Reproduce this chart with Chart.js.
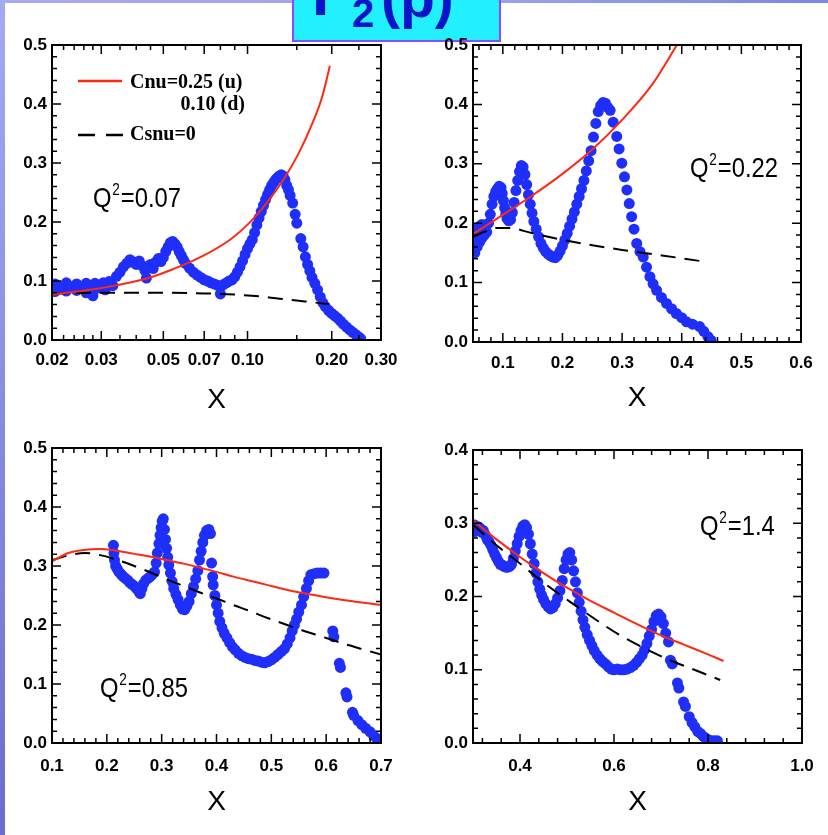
<!DOCTYPE html>
<html>
<head>
<meta charset="utf-8">
<script src="https://cdn.jsdelivr.net/npm/chart.js@4.4.1/dist/chart.umd.min.js"></script>
<style>
html, body { margin: 0; padding: 0; background: #fff; }
body { width: 828px; height: 835px; position: relative; overflow: hidden; }
#edgeTop { position: absolute; left: 0; top: 0; width: 828px; height: 3px; background: linear-gradient(90deg, #a6aaf2, #9aa2ee 60%, #7d86e0); }
#edgeLeft { position: absolute; left: 0; top: 0; width: 5px; height: 835px; background: linear-gradient(180deg, #a6aaf2, #6a6ecb); }
#titleBox { position: absolute; left: 292px; top: -4px; width: 205px; height: 42px; background: #22f0ff; border: 2px solid #8a4cff; overflow: hidden; }
canvas { position: absolute; }
</style>
</head>
<body>
<div id="edgeTop"></div>
<div id="edgeLeft"></div>
<div id="titleBox">
  <svg width="205" height="42">
    <text x="18" y="17" fill="#0a14c8" font-family="Liberation Sans, Arial, sans-serif" font-weight="bold" font-size="62">F</text>
    <text x="58" y="29" fill="#0a14c8" font-family="Liberation Sans, Arial, sans-serif" font-weight="bold" font-size="40">2</text>
    <text x="87" y="19" fill="#0a14c8" font-family="Liberation Sans, Arial, sans-serif" font-weight="bold" font-size="57">(p)</text>
  </svg>
</div>
<canvas id="c1" width="395" height="390" style="left:6px;top:30px"></canvas>
<canvas id="c2" width="394" height="392" style="left:427px;top:30px"></canvas>
<canvas id="c3" width="395" height="390" style="left:6px;top:433px"></canvas>
<canvas id="c4" width="395" height="388" style="left:427px;top:435px"></canvas>
<script>
const SANS = "'Liberation Sans', Arial, sans-serif";
const SERIF = "'Liberation Serif', 'Times New Roman', serif";

// ---- Q2 = 0.07 (log x) ----
const q007Points = [
  [0.0205,0.095],[0.0205,0.082],[0.0215,0.090],[0.0225,0.097],[0.0225,0.083],[0.0235,0.090],
  [0.0245,0.095],[0.0245,0.084],[0.0255,0.089],[0.0265,0.096],[0.0265,0.080],[0.0275,0.088],
  [0.0280,0.075],[0.0285,0.096],[0.0295,0.088],[0.0305,0.097],[0.0310,0.085],[0.0320,0.099],
  [0.0330,0.092],[0.0340,0.108],[0.0350,0.115],[0.0360,0.124],[0.0370,0.130],[0.0380,0.136],
  [0.0390,0.132],[0.0400,0.128],[0.0410,0.134],[0.0420,0.126],[0.0430,0.118],[0.0435,0.105],
  [0.0440,0.124],[0.0450,0.128],[0.0460,0.121],[0.0470,0.132],[0.0480,0.138],[0.0490,0.133],
  [0.0500,0.140],[0.0510,0.150],[0.0520,0.158],[0.0530,0.165],[0.0540,0.167],[0.0550,0.163],
  [0.0560,0.158],[0.0570,0.150],[0.0580,0.143],[0.0590,0.136],[0.0600,0.130],[0.0620,0.122],
  [0.0640,0.115],[0.0660,0.110],[0.0680,0.106],[0.0700,0.102],[0.0720,0.100],[0.0740,0.097],
  [0.0760,0.095],[0.0780,0.093],[0.0800,0.090],[0.0800,0.078],[0.0820,0.094],[0.0840,0.097],
  [0.0860,0.100],[0.0880,0.102],[0.0900,0.107],[0.0920,0.115],[0.0940,0.124],[0.0960,0.134],
  [0.0980,0.145],[0.1000,0.155],[0.1020,0.163],[0.1040,0.170],[0.1060,0.182],[0.1080,0.195],
  [0.1100,0.207],[0.1120,0.218],[0.1140,0.228],[0.1160,0.238],[0.1180,0.247],[0.1200,0.255],
  [0.1220,0.262],[0.1240,0.267],[0.1260,0.272],[0.1280,0.275],[0.1300,0.278],[0.1320,0.280],
  [0.1340,0.278],[0.1360,0.272],[0.1380,0.262],[0.1400,0.255],[0.1420,0.245],[0.1450,0.232],
  [0.1480,0.213],[0.1500,0.198],[0.1550,0.172],[0.1580,0.158],[0.1610,0.141],[0.1640,0.128],
  [0.1670,0.117],[0.1700,0.106],[0.1740,0.096],[0.1780,0.085],[0.1820,0.073],[0.1860,0.063],
  [0.1900,0.056],[0.1950,0.050],[0.2000,0.045],[0.2050,0.041],[0.2100,0.037],[0.2150,0.032],
  [0.2200,0.027],[0.2260,0.022],[0.2320,0.017],[0.2380,0.013],[0.2440,0.009],[0.2500,0.005],
  [0.2540,0.002]
];
const q007Cnu = [[0.020,0.077],[0.0273,0.085],[0.0342,0.093],[0.0448,0.106],[0.0541,0.120],[0.0676,0.140],
  [0.0866,0.170],[0.1017,0.199],[0.1174,0.233],[0.1345,0.272],[0.1518,0.315],[0.1715,0.370],[0.1848,0.412],[0.197,0.465]];
const q007Csnu = [[0.020,0.079],[0.03,0.080],[0.05,0.080],[0.07,0.079],[0.09,0.077],[0.11,0.074],
  [0.13,0.070],[0.15,0.067],[0.17,0.064],[0.195,0.061]];
const q007XTicks = [0.02, 0.03, 0.05, 0.07, 0.10, 0.20, 0.30];
const q007XLabels = ['0.02', '0.03', '0.05', '0.07', '0.10', '0.20', '0.30'];
const q007XMinor = [0.022, 0.024, 0.026, 0.028, 0.035, 0.04, 0.045, 0.06, 0.08, 0.09, 0.15, 0.25];

// ---- Q2 = 0.22 ----
const q022Points = [
  [0.053,0.150],[0.053,0.172],[0.053,0.190],[0.057,0.160],[0.057,0.185],[0.061,0.168],[0.061,0.195],
  [0.065,0.175],[0.065,0.198],[0.069,0.180],[0.069,0.196],[0.073,0.185],[0.076,0.200],[0.079,0.215],
  [0.082,0.232],[0.085,0.245],[0.088,0.253],[0.091,0.258],[0.094,0.262],[0.097,0.260],[0.099,0.250],
  [0.101,0.238],[0.103,0.226],[0.105,0.216],[0.107,0.208],[0.110,0.204],[0.113,0.206],[0.116,0.218],
  [0.119,0.235],[0.122,0.255],[0.125,0.272],[0.128,0.287],[0.131,0.297],[0.134,0.295],[0.137,0.282],
  [0.140,0.265],[0.143,0.248],[0.146,0.232],[0.149,0.217],[0.152,0.203],[0.156,0.190],[0.160,0.177],
  [0.164,0.166],[0.168,0.158],[0.172,0.152],[0.176,0.148],[0.180,0.145],[0.184,0.143],[0.188,0.142],
  [0.192,0.146],[0.196,0.153],[0.200,0.162],[0.204,0.172],[0.208,0.183],[0.212,0.195],[0.216,0.207],
  [0.220,0.219],[0.224,0.232],[0.228,0.245],[0.232,0.258],[0.236,0.272],[0.240,0.288],[0.244,0.305],
  [0.248,0.322],[0.252,0.345],[0.256,0.368],[0.260,0.388],[0.264,0.398],[0.268,0.403],[0.272,0.402],
  [0.276,0.395],[0.280,0.390],[0.285,0.370],[0.291,0.346],[0.295,0.325],[0.2995,0.301],[0.304,0.278],
  [0.308,0.256],[0.312,0.233],[0.316,0.211],[0.320,0.190],[0.3245,0.166],[0.330,0.152],[0.3355,0.143],
  [0.341,0.126],[0.3467,0.110],[0.352,0.098],[0.3578,0.087],[0.366,0.075],[0.3745,0.065],[0.383,0.056],
  [0.391,0.048],[0.400,0.041],[0.408,0.034],[0.418,0.030],[0.430,0.026],[0.437,0.018],[0.444,0.009],
  [0.449,0.003]
];
const q022Cnu = [[0.05,0.182],[0.1,0.214],[0.15,0.247],[0.2,0.283],[0.25,0.324],[0.3,0.374],
  [0.35,0.433],[0.392,0.5]];
const q022Csnu = [[0.05,0.177],[0.07,0.186],[0.09,0.192],[0.11,0.192],[0.15,0.183],[0.2,0.172],
  [0.25,0.163],[0.3,0.155],[0.35,0.148],[0.4,0.141],[0.44,0.135]];
const q022XTicks = [0.1, 0.2, 0.3, 0.4, 0.5, 0.6];
const q022XLabels = ['0.1', '0.2', '0.3', '0.4', '0.5', '0.6'];

// ---- Q2 = 0.85 ----
const q085Points = [
  [0.212,0.335],[0.213,0.322],[0.214,0.310],[0.216,0.300],[0.219,0.295],[0.222,0.290],[0.226,0.286],
  [0.230,0.282],[0.234,0.279],[0.238,0.276],[0.242,0.272],[0.246,0.269],[0.250,0.266],[0.254,0.262],
  [0.258,0.257],[0.261,0.253],[0.264,0.262],[0.267,0.270],[0.271,0.276],[0.275,0.279],[0.279,0.282],
  [0.283,0.286],[0.287,0.290],[0.290,0.305],[0.292,0.322],[0.295,0.338],[0.297,0.352],[0.299,0.365],
  [0.301,0.376],[0.303,0.380],[0.305,0.362],[0.307,0.345],[0.309,0.330],[0.311,0.315],[0.313,0.302],
  [0.316,0.288],[0.319,0.274],[0.322,0.262],[0.326,0.252],[0.330,0.243],[0.334,0.234],[0.338,0.227],
  [0.342,0.226],[0.346,0.232],[0.350,0.240],[0.354,0.253],[0.358,0.265],[0.362,0.278],[0.366,0.292],
  [0.369,0.310],[0.372,0.325],[0.375,0.340],[0.378,0.352],[0.382,0.360],[0.386,0.362],[0.389,0.355],
  [0.391,0.305],[0.393,0.282],[0.394,0.268],[0.397,0.250],[0.400,0.234],[0.403,0.220],[0.406,0.206],
  [0.410,0.195],[0.414,0.186],[0.419,0.178],[0.424,0.170],[0.429,0.163],[0.434,0.158],[0.440,0.152],
  [0.446,0.148],[0.452,0.145],[0.458,0.143],[0.464,0.142],[0.470,0.140],[0.476,0.139],[0.482,0.137],
  [0.488,0.136],[0.494,0.138],[0.500,0.141],[0.506,0.145],[0.512,0.150],[0.518,0.155],[0.524,0.160],
  [0.529,0.168],[0.534,0.178],[0.538,0.190],[0.542,0.200],[0.546,0.210],[0.550,0.222],[0.555,0.234],
  [0.559,0.248],[0.564,0.262],[0.568,0.275],[0.572,0.285],[0.578,0.287],[0.584,0.288],[0.590,0.288],
  [0.596,0.288],[0.612,0.190],[0.614,0.180],[0.624,0.135],[0.626,0.128],[0.636,0.085],[0.638,0.078],
  [0.648,0.052],[0.650,0.047],[0.658,0.038],[0.665,0.031],[0.672,0.025],[0.680,0.019],[0.686,0.013],
  [0.692,0.008],[0.697,0.003]
];
const q085Cnu = [[0.1,0.308],[0.13,0.322],[0.157,0.327],[0.187,0.329],[0.218,0.326],[0.248,0.321],
  [0.279,0.316],[0.309,0.31],[0.34,0.304],[0.37,0.297],[0.4,0.29],[0.431,0.282],[0.461,0.275],
  [0.492,0.268],[0.522,0.261],[0.552,0.255],[0.583,0.25],[0.613,0.245],[0.65,0.24],[0.7,0.234]];
const q085Csnu = [[0.1,0.31],[0.13,0.318],[0.16,0.322],[0.19,0.318],[0.22,0.31],[0.25,0.300],
  [0.28,0.289],[0.31,0.277],[0.34,0.266],[0.37,0.255],[0.4,0.245],[0.43,0.234],[0.46,0.224],
  [0.49,0.213],[0.52,0.203],[0.55,0.193],[0.58,0.184],[0.61,0.175],[0.64,0.166],[0.67,0.158],[0.7,0.15]];
const q085XTicks = [0.1, 0.2, 0.3, 0.4, 0.5, 0.6, 0.7];
const q085XLabels = ['0.1', '0.2', '0.3', '0.4', '0.5', '0.6', '0.7'];

// ---- Q2 = 1.4 ----
const q14Points = [
  [0.302,0.298],[0.302,0.288],[0.308,0.296],[0.314,0.294],[0.318,0.288],[0.322,0.290],[0.326,0.284],
  [0.330,0.278],[0.334,0.275],[0.338,0.270],[0.342,0.264],[0.346,0.258],[0.350,0.253],[0.354,0.248],
  [0.358,0.244],[0.362,0.243],[0.366,0.241],[0.370,0.240],[0.374,0.240],[0.378,0.241],[0.382,0.244],
  [0.386,0.252],[0.390,0.262],[0.394,0.272],[0.398,0.282],[0.402,0.290],[0.406,0.296],[0.410,0.298],
  [0.414,0.294],[0.418,0.285],[0.422,0.272],[0.426,0.258],[0.430,0.245],[0.434,0.232],[0.438,0.220],
  [0.442,0.210],[0.446,0.202],[0.450,0.196],[0.455,0.190],[0.460,0.186],[0.465,0.183],[0.470,0.185],
  [0.475,0.190],[0.480,0.198],[0.485,0.208],[0.490,0.222],[0.494,0.238],[0.498,0.250],[0.502,0.258],
  [0.506,0.260],[0.510,0.250],[0.514,0.235],[0.518,0.220],[0.522,0.205],[0.526,0.192],[0.530,0.180],
  [0.534,0.168],[0.538,0.158],[0.543,0.148],[0.548,0.140],[0.553,0.133],[0.558,0.126],[0.564,0.120],
  [0.570,0.115],[0.576,0.111],[0.582,0.108],[0.588,0.104],[0.594,0.101],[0.600,0.100],[0.607,0.101],
  [0.614,0.100],[0.621,0.100],[0.628,0.101],[0.635,0.103],[0.642,0.106],[0.648,0.110],[0.654,0.115],
  [0.660,0.120],[0.665,0.127],[0.670,0.136],[0.675,0.146],[0.680,0.155],[0.685,0.166],[0.690,0.174],
  [0.695,0.176],[0.700,0.172],[0.705,0.163],[0.710,0.150],[0.716,0.138],[0.720,0.113],[0.724,0.108],
  [0.735,0.082],[0.738,0.075],[0.748,0.056],[0.752,0.050],[0.760,0.036],[0.766,0.028],[0.772,0.022],
  [0.778,0.016],[0.784,0.013],[0.790,0.009],[0.796,0.006],[0.802,0.004],[0.808,0.003],[0.814,0.003],
  [0.820,0.003]
];
const q14Cnu = [[0.3,0.304],[0.35,0.278],[0.4,0.254],[0.45,0.232],[0.5,0.212],[0.55,0.194],
  [0.6,0.178],[0.65,0.162],[0.7,0.147],[0.75,0.134],[0.8,0.121],[0.833,0.112]];
const q14Csnu = [[0.3,0.298],[0.35,0.27],[0.4,0.245],[0.45,0.219],[0.506,0.193],[0.56,0.169],
  [0.613,0.147],[0.666,0.129],[0.719,0.113],[0.775,0.099],[0.826,0.086]];
const q14XTicks = [0.4, 0.6, 0.8, 1.0];
const q14XLabels = ['0.4', '0.6', '0.8', '1.0'];

const yTicks05 = [0, 0.1, 0.2, 0.3, 0.4, 0.5];
const yTicks04 = [0, 0.1, 0.2, 0.3, 0.4];

const BLUE = '#1f2ff9';
const RED = '#ff2814';

function steps(min, max, step, anchor) {
  const out = [];
  for (let k = -200; k <= 200; k++) {
    const v = +(anchor + k * step).toFixed(6);
    if (v > min + 1e-9 && v < max - 1e-9) out.push(v);
  }
  return out;
}

// "Q^2=val" label, squeezed horizontally like the original narrow face
function drawQ(ctx, x, y, val) {
  ctx.save();
  ctx.translate(x, y);
  ctx.scale(0.85, 1);
  ctx.fillStyle = '#000';
  ctx.textBaseline = 'alphabetic';
  ctx.textAlign = 'left';
  ctx.font = '28px ' + SANS;
  ctx.fillText('Q', 0, 0);
  const w = ctx.measureText('Q').width;
  ctx.font = '16px ' + SANS;
  ctx.fillText('2', w + 1, -12);
  const w2 = ctx.measureText('2').width;
  ctx.font = '28px ' + SANS;
  ctx.fillText('=' + val, w + w2 + 2, 0);
  ctx.restore();
}

// frame with inward ticks on all four sides, plus panel annotations
const framePlugin = {
  id: 'frame',
  afterDatasetsDraw(chart, args, opts) {
    const { ctx, chartArea: a, scales: { x, y } } = chart;
    ctx.save();
    ctx.strokeStyle = '#000';
    ctx.lineWidth = 1.5;
    ctx.beginPath();
    const xt = (vals, len) => vals.forEach(v => {
      const px = x.getPixelForValue(v);
      if (px < a.left + 1 || px > a.right - 1) return;
      ctx.moveTo(px, a.bottom); ctx.lineTo(px, a.bottom - len);
      ctx.moveTo(px, a.top); ctx.lineTo(px, a.top + len);
    });
    const yt = (vals, len) => vals.forEach(v => {
      const py = y.getPixelForValue(v);
      if (py < a.top + 1 || py > a.bottom - 1) return;
      ctx.moveTo(a.left, py); ctx.lineTo(a.left + len, py);
      ctx.moveTo(a.right, py); ctx.lineTo(a.right - len, py);
    });
    xt(x.ticks.map(t => t.value), 9);
    xt(opts.xMinor, 5);
    yt(y.ticks.map(t => t.value), 9);
    yt(opts.yMinor, 5);
    ctx.stroke();
    ctx.lineWidth = 2;
    ctx.strokeRect(a.left, a.top, a.width, a.height);

    drawQ(ctx, a.left + opts.qPos[0], a.top + opts.qPos[1], opts.q);

    if (opts.legend) {
      ctx.lineWidth = 2.5;
      ctx.strokeStyle = RED;
      ctx.beginPath();
      ctx.moveTo(a.left + 26, a.top + 36); ctx.lineTo(a.left + 70, a.top + 36);
      ctx.stroke();
      ctx.strokeStyle = '#000';
      ctx.setLineDash([17, 11]);
      ctx.beginPath();
      ctx.moveTo(a.left + 26, a.top + 90); ctx.lineTo(a.left + 71, a.top + 90);
      ctx.stroke();
      ctx.setLineDash([]);
      ctx.fillStyle = '#000';
      ctx.font = 'bold 20px ' + SERIF;
      ctx.textBaseline = 'middle';
      ctx.textAlign = 'left';
      ctx.fillText('Cnu=0.25 (u)', a.left + 78, a.top + 38);
      ctx.fillText('Csnu=0', a.left + 78, a.top + 90);
      ctx.textAlign = 'right';
      ctx.fillText('0.10 (d)', a.left + 193, a.top + 60);
    }
    ctx.restore();
  }
};

const toXY = arr => arr.map(([x, y]) => ({ x, y }));

function makePanel(id, p) {
  new Chart(document.getElementById(id), {
    type: 'scatter',
    data: {
      datasets: [
        { data: toXY(p.cnu), showLine: true, borderColor: RED, borderWidth: 2, pointRadius: 0, cubicInterpolationMode: 'monotone' },
        { data: toXY(p.csnu), showLine: true, borderColor: '#000', borderWidth: 2, borderDash: [15, 9], pointRadius: 0, cubicInterpolationMode: 'monotone' },
        { data: toXY(p.points), showLine: false, pointRadius: 5.5, backgroundColor: BLUE, borderWidth: 0 }
      ]
    },
    options: {
      responsive: false,
      animation: false,
      events: [],
      layout: { padding: { top: 15, right: 20, left: 0, bottom: 0 } },
      plugins: {
        legend: { display: false },
        tooltip: { enabled: false },
        frame: { xMinor: p.xMinor, yMinor: p.yMinor, q: p.q, qPos: p.qPos, legend: !!p.legend }
      },
      scales: {
        x: {
          type: p.xType || 'linear',
          min: p.xMin, max: p.xMax,
          afterBuildTicks: s => { s.ticks = p.xTicks.map(v => ({ value: v })); },
          afterFit: s => { s.height = 80; s.paddingLeft = 0; s.paddingRight = 0; },
          grid: { display: false, drawTicks: false },
          border: { display: false },
          ticks: {
            autoSkip: false, maxRotation: 0, padding: p.xPad, color: '#000',
            font: { family: SANS, size: 17, weight: 'bold' },
            callback: (v, i) => p.xLabels[i]
          },
          title: { display: true, text: 'X', color: '#000', font: { family: SANS, size: 28 }, padding: { top: 0, bottom: p.titlePad } }
        },
        y: {
          min: 0, max: p.yMax,
          afterBuildTicks: s => { s.ticks = p.yTicks.map(v => ({ value: v })); },
          afterFit: s => { s.width = 46; s.paddingTop = 0; s.paddingBottom = 0; },
          grid: { display: false, drawTicks: false },
          border: { display: false },
          ticks: {
            autoSkip: false, padding: 5, color: '#000',
            font: { family: SANS, size: 17, weight: 'bold' },
            callback: v => v.toFixed(1)
          }
        }
      }
    },
    plugins: [framePlugin]
  });
}

makePanel('c1', {
  points: q007Points, cnu: q007Cnu, csnu: q007Csnu, xType: 'logarithmic', xMin: 0.02, xMax: 0.3,
  xTicks: q007XTicks, xLabels: q007XLabels, xMinor: q007XMinor,
  yMax: 0.5, yTicks: yTicks05, yMinor: steps(0, 0.5, 0.02, 0),
  q: '0.07', qPos: [41, 162], legend: true, xPad: 10, titlePad: 3
});
makePanel('c2', {
  points: q022Points, cnu: q022Cnu, csnu: q022Csnu, xMin: 0.05, xMax: 0.6,
  xTicks: q022XTicks, xLabels: q022XLabels, xMinor: steps(0.05, 0.6, 0.02, 0.1),
  yMax: 0.5, yTicks: yTicks05, yMinor: steps(0, 0.5, 0.02, 0),
  q: '0.22', qPos: [217, 132], xPad: 11, titlePad: 7
});
makePanel('c3', {
  points: q085Points, cnu: q085Cnu, csnu: q085Csnu, xMin: 0.1, xMax: 0.7,
  xTicks: q085XTicks, xLabels: q085XLabels, xMinor: steps(0.1, 0.7, 0.02, 0.1),
  yMax: 0.5, yTicks: yTicks05, yMinor: steps(0, 0.5, 0.02, 0),
  q: '0.85', qPos: [48, 249], xPad: 13, titlePad: 4
});
makePanel('c4', {
  points: q14Points, cnu: q14Cnu, csnu: q14Csnu, xMin: 0.3, xMax: 1.0,
  xTicks: q14XTicks, xLabels: q14XLabels, xMinor: steps(0.3, 1.0, 0.04, 0.4),
  yMax: 0.4, yTicks: yTicks04, yMinor: steps(0, 0.4, 0.02, 0),
  q: '1.4', qPos: [227, 85], xPad: 13, titlePad: 4
});
</script>
</body>
</html>
